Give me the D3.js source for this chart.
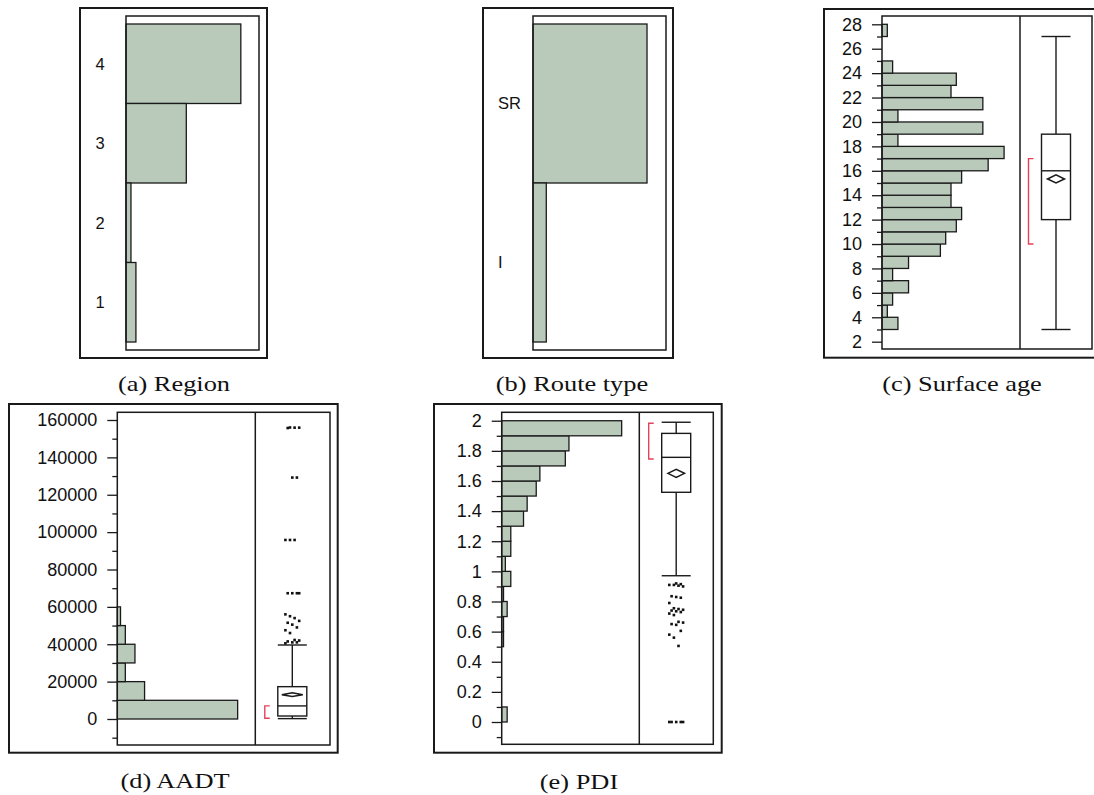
<!DOCTYPE html>
<html>
<head>
<meta charset="utf-8">
<script src="https://cdn.jsdelivr.net/npm/d3@7"></script>
<style>
  body { margin: 0; background: #fff; }
  svg { display: block; }
  .tick text { font-family: "Liberation Sans", Arial, sans-serif; font-size: 18px; fill: #111; }
  .tick line { stroke: #1a1a1a; stroke-width: 1.3; }
  .level { font-family: "Liberation Sans", Arial, sans-serif; font-size: 16.5px; fill: #111; }
  .caption { font-family: "Liberation Serif", "Times New Roman", serif; font-size: 22px; fill: #111; }
</style>
</head>
<body>
<svg width="1094" height="795"></svg>
<script>
// (a) Region, (b) Route type: counts per level
var regionLevels = ["4", "3", "2", "1"];
var regionCounts = [139, 73, 6, 12];
var routeLevels = ["SR", "I"];
var routeCounts = [206, 24];

// (c) Surface age
var ageBins = [3, 4, 5, 6, 7, 8, 9, 10, 11, 12, 13, 14, 15, 16, 17, 18, 19, 20, 21, 22, 23, 24, 25, 26, 27];
var ageCounts = [3, 1, 2, 5, 2, 5, 11, 12, 14, 15, 13, 13, 15, 20, 23, 3, 19, 3, 19, 13, 14, 2, 0, 0, 1];
var ageTicks = [2, 4, 6, 8, 10, 12, 14, 16, 18, 20, 22, 24, 26, 28];
var ageMinorTicks = [3, 5, 7, 9, 11, 13, 15, 17, 19, 21, 23, 25, 27];
var ageQuantiles = [3, 12, 16, 19, 27];
var ageMean = [15.33, 0.33];
var ageShortestHalf = [10, 17];
var ageOutliers = [];

// (d) AADT
var aadtBins = [0, 10000, 20000, 30000, 40000, 50000];
var aadtCounts = [150, 34, 10, 22, 10, 4];
var aadtTicks = [0, 20000, 40000, 60000, 80000, 100000, 120000, 140000, 160000];
var aadtMinorTicks = [-10000, 10000, 30000, 50000, 70000, 90000, 110000, 130000, 150000];
var aadtQuantiles = [200, 1600, 7000, 17300, 39600];
var aadtMean = [13000, 1000];
var aadtShortestHalf = [400, 7000];
var aadtOutliers = [40500, 41000, 41000, 41500, 42000, 42300, 46000, 47500, 49000, 50500, 51500,
  52500, 54000, 55000, 56000, 67300, 67300, 67300, 67300, 95800, 95800, 95800,
  129200, 129200, 155700, 155900, 155900, 156000];

// (e) PDI
var pdiBins = [0, 0.5, 0.6, 0.7, 0.8, 0.9, 1.0, 1.1, 1.2, 1.3, 1.4, 1.5, 1.6, 1.7, 1.8, 1.9];
var pdiCounts = [3, 1, 1, 3, 1, 5, 2, 5, 5, 12, 14, 19, 21, 35, 37, 66];
var pdiTicks = [0, 0.2, 0.4, 0.6, 0.8, 1, 1.2, 1.4, 1.6, 1.8, 2];
var pdiMinorTicks = [-0.1, 0.1, 0.3, 0.5, 0.7, 0.9, 1.1, 1.3, 1.5, 1.7, 1.9];
var pdiQuantiles = [0.971, 1.525, 1.757, 1.916, 1.99];
var pdiMean = [1.651, 0.027];
var pdiShortestHalf = [1.746, 1.983];
var pdiOutliers = [0, 0, 0, 0, 0, 0.505, 0.56, 0.58, 0.605, 0.645, 0.65, 0.66, 0.665, 0.71, 0.72,
  0.73, 0.735, 0.74, 0.745, 0.75, 0.755, 0.79, 0.825, 0.83, 0.835, 0.9, 0.905, 0.91, 0.91, 0.915, 0.92];

var barFill = "#b9cabb",
    ink = "#1a1a1a",
    bracketRed = "#e3425a";

var svg = d3.select("svg");

var frame = function (x0, y0, x1, y1, w) {
  svg.append("rect")
      .attr("x", x0).attr("y", y0)
      .attr("width", x1 - x0).attr("height", y1 - y0)
      .attr("fill", "none")
      .attr("stroke", ink)
      .attr("stroke-width", w);
};

var caption = function (text, cx, cy) {
  svg.append("text")
      .attr("class", "caption")
      .attr("text-anchor", "middle")
      .attr("transform", "translate(" + cx + "," + cy + ") scale(1.2,1)")
      .text(text);
};

var plotLevels = function (levels, counts, p) {
  var y = d3.scaleBand().domain(levels).range([p.top + 8, p.bottom - 8]);
  var x = d3.scaleLinear().domain([0, p.xMax]).range([p.left, p.right]);
  var data = levels.map(function (l, i) { return {level: l, n: counts[i]}; });

  svg.append("g").selectAll("rect")
    .data(data)
    .enter().append("rect")
      .attr("x", x(0))
      .attr("y", function (d) { return y(d.level); })
      .attr("width", function (d) { return x(d.n) - x(0); })
      .attr("height", y.bandwidth())
      .attr("fill", barFill)
      .attr("stroke", ink)
      .attr("stroke-width", 1.3);

  svg.append("g").selectAll("text")
    .data(data)
    .enter().append("text")
      .attr("class", "level")
      .attr("x", p.labelX)
      .attr("y", function (d) { return y(d.level) + y.bandwidth() / 2; })
      .attr("dy", "0.35em")
      .text(function (d) { return d.level; });

  frame(p.left, p.top, p.right, p.bottom, 1.5);
  frame(p.outer[0], p.outer[1], p.outer[2], p.outer[3], 2);
};

var plotDistribution = function (p) {
  var y = d3.scaleLinear().domain(p.yDomain).range([p.bottom, p.top]);
  var x = d3.scaleLinear().domain([0, p.xMax]).range([p.left, p.divider]);
  var g = svg.append("g");

  var data = p.bins.map(function (b, i) { return {lo: b, n: p.counts[i]}; })
      .filter(function (d) { return d.n > 0; });

  g.selectAll(".bar")
    .data(data)
    .enter().append("rect")
      .attr("class", "bar")
      .attr("x", x(0))
      .attr("y", function (d) { return y(d.lo + p.binWidth); })
      .attr("width", function (d) { return x(d.n) - x(0); })
      .attr("height", function (d) { return y(d.lo) - y(d.lo + p.binWidth); })
      .attr("fill", barFill)
      .attr("stroke", ink)
      .attr("stroke-width", 1.3);

  g.append("g")
      .attr("transform", "translate(" + p.left + ",0)")
      .call(d3.axisLeft(y).tickValues(p.ticks).tickSize(10).tickPadding(10)
        .tickFormat(function (d) { return String(d); }))
      .call(function (a) { a.select(".domain").remove(); });

  g.append("g")
      .attr("transform", "translate(" + p.left + ",0)")
      .call(d3.axisLeft(y).tickValues(p.minorTicks).tickSize(5).tickFormat(""))
      .call(function (a) { a.select(".domain").remove(); });

  // box plot
  var q = p.quantiles, bx = p.boxX, hw = 14.5;
  var line = function (x1, y1, x2, y2) {
    g.append("line")
        .attr("x1", x1).attr("y1", y1).attr("x2", x2).attr("y2", y2)
        .attr("stroke", ink).attr("stroke-width", 1.4);
  };
  line(bx, y(q[0]), bx, y(q[1]));
  line(bx, y(q[3]), bx, y(q[4]));
  line(bx - hw, y(q[0]), bx + hw, y(q[0]));
  line(bx - hw, y(q[4]), bx + hw, y(q[4]));
  g.append("rect")
      .attr("x", bx - hw).attr("y", y(q[3]))
      .attr("width", hw * 2).attr("height", y(q[1]) - y(q[3]))
      .attr("fill", "#fff").attr("stroke", ink).attr("stroke-width", 1.4);
  line(bx - hw, y(q[2]), bx + hw, y(q[2]));

  var m = p.mean[0], ci = p.mean[1];
  g.append("path")
      .attr("d", "M" + (bx - p.diamondW) + "," + y(m) + "L" + bx + "," + y(m + ci) +
        "L" + (bx + p.diamondW) + "," + y(m) + "L" + bx + "," + y(m - ci) + "Z")
      .attr("fill", "#fff").attr("stroke", ink).attr("stroke-width", 1.5);

  var bxl = bx - hw - 13;
  g.append("path")
      .attr("d", "M" + (bxl + 5) + "," + y(p.shortHalf[1]) + "H" + bxl +
        "V" + y(p.shortHalf[0]) + "H" + (bxl + 5))
      .attr("fill", "none").attr("stroke", bracketRed).attr("stroke-width", 1.4);

  g.selectAll(".outlier")
    .data(p.outliers)
    .enter().append("rect")
      .attr("class", "outlier")
      .attr("x", function (d, i) { return bx + ((i * 5) % 7 - 3) * 2.3 - 1.3; })
      .attr("y", function (d) { return y(d) - 1.3; })
      .attr("width", 2.6).attr("height", 2.6)
      .attr("fill", "#111");

  g.append("line")
      .attr("x1", p.divider).attr("x2", p.divider)
      .attr("y1", p.top).attr("y2", p.bottom)
      .attr("stroke", ink).attr("stroke-width", 1.5);

  frame(p.left, p.top, p.right, p.bottom, 1.5);
  frame(p.outer[0], p.outer[1], p.outer[2], p.outer[3], 2);
};

plotLevels(regionLevels, regionCounts, {
  left: 126, right: 259, top: 16, bottom: 350, xMax: 161, labelX: 95.5,
  outer: [80, 8, 267, 358]
});
plotLevels(routeLevels, routeCounts, {
  left: 533, right: 666, top: 16, bottom: 350, xMax: 240.3, labelX: 498,
  outer: [483, 8, 673, 358]
});

plotDistribution({
  bins: ageBins, counts: ageCounts, binWidth: 1,
  ticks: ageTicks, minorTicks: ageMinorTicks,
  quantiles: ageQuantiles, mean: ageMean, shortHalf: ageShortestHalf, outliers: ageOutliers,
  yDomain: [1.402, 28.68], xMax: 26,
  left: 882, right: 1092, top: 16, bottom: 349, divider: 1020,
  boxX: 1056, diamondW: 8.5, outer: [824, 9, 1104, 357.7]
});

plotDistribution({
  bins: aadtBins, counts: aadtCounts, binWidth: 10000,
  ticks: aadtTicks, minorTicks: aadtMinorTicks,
  quantiles: aadtQuantiles, mean: aadtMean, shortHalf: aadtShortestHalf, outliers: aadtOutliers,
  yDomain: [-13913, 164120], xMax: 172,
  left: 117.3, right: 330, top: 412.3, bottom: 745, divider: 255.3,
  boxX: 292.3, diamondW: 10.5, outer: [9, 404, 337.7, 752.7]
});

plotDistribution({
  bins: pdiBins, counts: pdiCounts, binWidth: 0.1,
  ticks: pdiTicks, minorTicks: pdiMinorTicks,
  quantiles: pdiQuantiles, mean: pdiMean, shortHalf: pdiShortestHalf, outliers: pdiOutliers,
  yDomain: [-0.148, 2.056], xMax: 75.7,
  left: 501.7, right: 713.3, top: 412.3, bottom: 744.3, divider: 639.3,
  boxX: 676.2, diamondW: 8.3, outer: [434, 404, 721.7, 752.7]
});

caption("(a) Region", 174, 391);
caption("(b) Route type", 572, 391);
caption("(c) Surface age", 962, 391);
caption("(d) AADT", 175, 788);
caption("(e) PDI", 579, 789);
</script>
</body>
</html>
